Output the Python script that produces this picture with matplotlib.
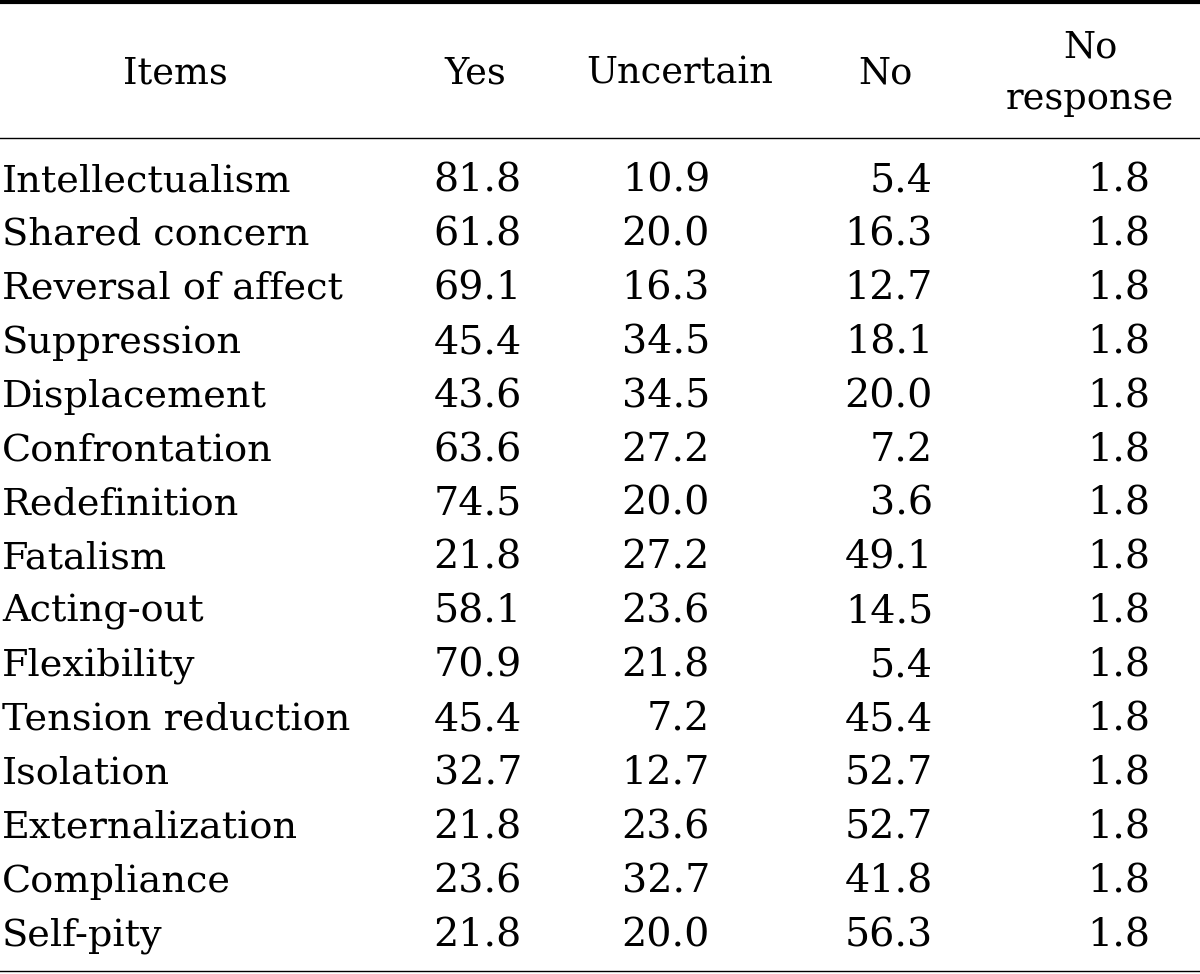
import matplotlib
matplotlib.use("Agg")
import matplotlib.pyplot as plt
from matplotlib.lines import Line2D

items = ["Intellectualism", "Shared concern", "Reversal of affect", "Suppression",
         "Displacement", "Confrontation", "Redefinition", "Fatalism", "Acting-out",
         "Flexibility", "Tension reduction", "Isolation", "Externalization",
         "Compliance", "Self-pity"]
yes = ["81.8", "61.8", "69.1", "45.4", "43.6", "63.6", "74.5", "21.8", "58.1",
       "70.9", "45.4", "32.7", "21.8", "23.6", "21.8"]
uncertain = ["10.9", "20.0", "16.3", "34.5", "34.5", "27.2", "20.0", "27.2", "23.6",
             "21.8", "7.2", "12.7", "23.6", "32.7", "20.0"]
no = ["5.4", "16.3", "12.7", "18.1", "20.0", "7.2", "3.6", "49.1", "14.5",
      "5.4", "45.4", "52.7", "52.7", "41.8", "56.3"]
no_response = ["1.8"] * 15
headers = ["Items", "Yes", "Uncertain", "No", "No\nresponse"]

W, H = 1200, 974
fig = plt.figure(figsize=(W / 100, H / 100), dpi=100)
fig.patch.set_facecolor("white")

FONT = "DejaVu Serif"
FS_TXT = 27.5
FS_NUM = 28.5

def fx(x):
    return x / W

def fy(y):
    return 1 - y / H

def hline(y, lw):
    fig.add_artist(Line2D([0, 1], [fy(y), fy(y)], transform=fig.transFigure,
                          color="black", linewidth=lw))

hline(2, 3.0)
hline(138, 1.0)
hline(971, 1.0)

# headers
hx = [175, 475, 680, 885, 1090]
for h, x in zip(headers, hx):
    fig.text(fx(x), fy(73), h, ha="center", va="center", fontsize=FS_TXT - 1,
             family=FONT, linespacing=1.55)

row0, dy = 181, 53.9
for i in range(len(items)):
    y = fy(row0 + i * dy)
    fig.text(fx(2), y, items[i], ha="left", va="center", fontsize=FS_TXT, family=FONT)
    fig.text(fx(522), y, yes[i], ha="right", va="center", fontsize=FS_NUM, family=FONT)
    fig.text(fx(710), y, uncertain[i], ha="right", va="center", fontsize=FS_NUM, family=FONT)
    fig.text(fx(933), y, no[i], ha="right", va="center", fontsize=FS_NUM, family=FONT)
    fig.text(fx(1150), y, no_response[i], ha="right", va="center", fontsize=FS_NUM, family=FONT)

fig.savefig("out.png", dpi=100)
